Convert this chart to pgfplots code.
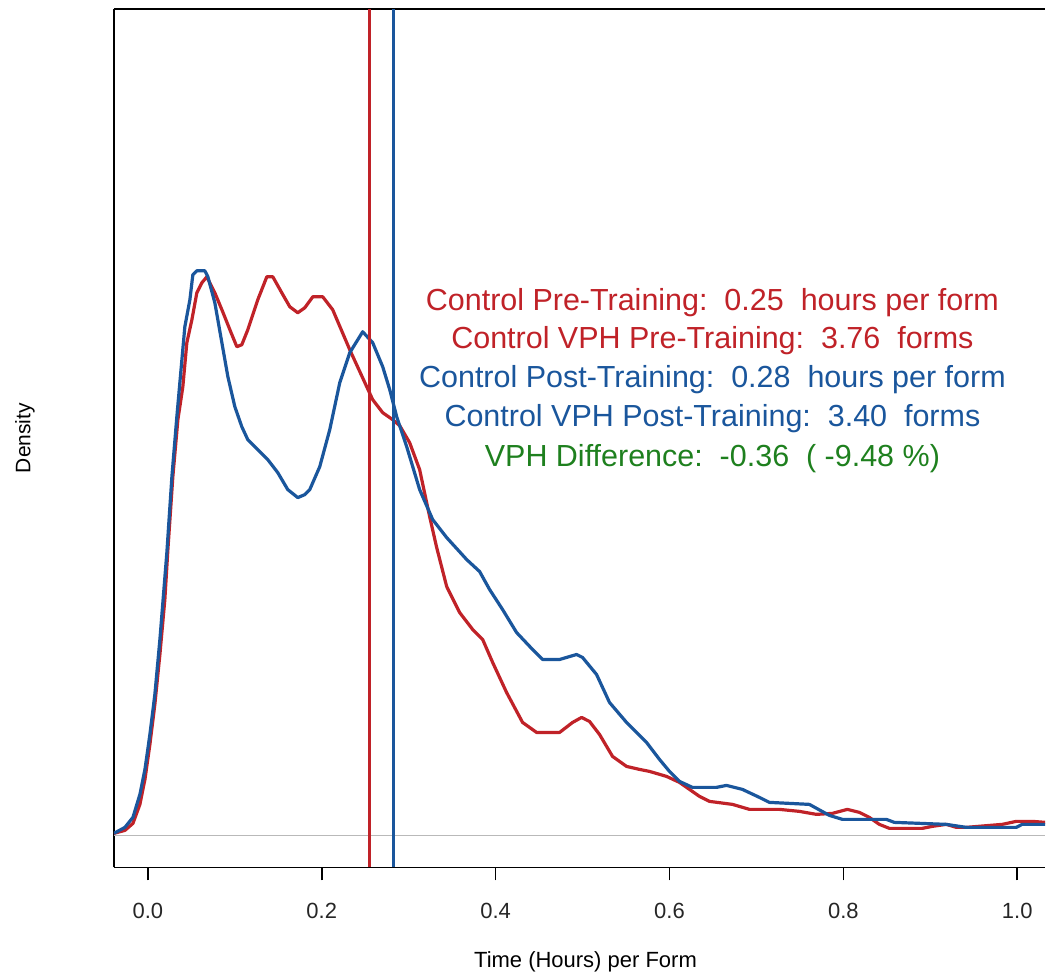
\documentclass[border=0pt]{standalone}
\usepackage{fontspec}
\setmainfont{Liberation Sans}
\usepackage{pgfplots}
\pgfplotsset{compat=1.18}
\definecolor{rred}{RGB}{192,34,40}
\definecolor{rblue}{RGB}{26,86,156}
\definecolor{rgreen}{RGB}{30,128,30}

\pgfplotstableread{
x y
-0.0391 0.02
-0.0264 0.05
-0.0172 0.12
-0.0092 0.31
-0.0034 0.56
0.0023 0.91
0.0080 1.31
0.0138 1.81
0.0195 2.36
0.0230 2.86
0.0287 3.59
0.0345 4.16
0.0402 4.49
0.0448 4.93
0.0506 5.16
0.0563 5.43
0.0621 5.53
0.0678 5.59
0.0770 5.43
0.0851 5.26
0.0943 5.06
0.1023 4.89
0.1080 4.91
0.1149 5.06
0.1264 5.36
0.1368 5.59
0.1437 5.59
0.1540 5.43
0.1632 5.29
0.1724 5.23
0.1805 5.28
0.1897 5.39
0.2011 5.39
0.2126 5.26
0.2322 4.86
0.2517 4.49
0.2586 4.36
0.2701 4.23
0.2816 4.16
0.2897 4.10
0.3011 3.93
0.3126 3.66
0.3241 3.19
0.3322 2.88
0.3437 2.49
0.3586 2.23
0.3736 2.06
0.3851 1.96
0.3966 1.73
0.4126 1.43
0.4310 1.13
0.4471 1.03
0.4736 1.03
0.4885 1.13
0.4989 1.18
0.5080 1.14
0.5195 1.01
0.5345 0.79
0.5506 0.69
0.5655 0.66
0.5770 0.64
0.5966 0.59
0.6115 0.53
0.6345 0.39
0.6460 0.34
0.6724 0.31
0.6920 0.26
0.7264 0.26
0.7494 0.24
0.7690 0.21
0.7874 0.22
0.8046 0.26
0.8184 0.23
0.8299 0.18
0.8414 0.11
0.8529 0.07
0.8908 0.07
0.9023 0.09
0.9184 0.11
0.9299 0.08
0.9414 0.08
0.9828 0.11
0.9989 0.14
1.0172 0.14
1.0322 0.13
}\pretable

\pgfplotstableread{
x y
-0.0391 0.02
-0.0264 0.08
-0.0172 0.18
-0.0092 0.41
-0.0034 0.66
0.0023 1.01
0.0080 1.41
0.0138 1.96
0.0218 2.83
0.0276 3.59
0.0333 4.19
0.0391 4.76
0.0425 5.09
0.0483 5.36
0.0517 5.61
0.0563 5.65
0.0655 5.65
0.0690 5.59
0.0770 5.33
0.0851 4.93
0.0920 4.59
0.1000 4.29
0.1080 4.09
0.1149 3.96
0.1264 3.86
0.1379 3.76
0.1494 3.63
0.1609 3.46
0.1724 3.38
0.1805 3.41
0.1862 3.46
0.1977 3.69
0.2092 4.06
0.2207 4.53
0.2322 4.83
0.2471 5.04
0.2586 4.93
0.2701 4.69
0.2782 4.46
0.2862 4.19
0.2977 3.89
0.3126 3.46
0.3276 3.16
0.3437 2.98
0.3667 2.76
0.3816 2.64
0.3931 2.46
0.4080 2.26
0.4241 2.03
0.4425 1.86
0.4540 1.76
0.4736 1.76
0.4931 1.81
0.5000 1.78
0.5161 1.61
0.5310 1.33
0.5506 1.13
0.5736 0.93
0.5885 0.76
0.6000 0.64
0.6115 0.54
0.6264 0.48
0.6540 0.48
0.6655 0.50
0.6839 0.46
0.7034 0.38
0.7149 0.33
0.7609 0.31
0.7839 0.20
0.7989 0.16
0.8494 0.16
0.8586 0.13
0.9184 0.11
0.9414 0.08
0.9989 0.08
1.0057 0.11
1.0322 0.11
}\posttable

\begin{document}
\begin{tikzpicture}
\begin{axis}[
  scale only axis, width=932pt, height=859pt,
  xmin=-0.0391, xmax=1.0322, ymin=-0.32, ymax=8.27,
  axis x line=box, axis y line=left,
  every outer y axis line/.append style={-},
  y axis line style={-},
  axis line style={black, line width=1.6pt},
  xtick={0,0.2,0.4,0.6,0.8,1.0},
  xticklabels={0.0,0.2,0.4,0.6,0.8,1.0},
  xtick pos=bottom,
  ytick=\empty,
  tick align=outside,
  major tick length=13pt,
  every tick/.style={black, line width=1.6pt},
  /pgf/number format/assume math mode=true,
  xticklabel style={font=\fontsize{22}{26}\selectfont, color=black!85, yshift=-19pt},
  xlabel={Time (Hours) per Form},
  xlabel style={at={(axis description cs:0.5064,-0.1164)}, anchor=base, font=\fontsize{22}{26}\selectfont},
  ylabel={Density},
  ylabel style={at={(axis description cs:-0.0955,0.5)}, anchor=center, font=\fontsize{21}{25}\selectfont},
  clip=true,
]
\addplot[gray!55, line width=1.3pt] coordinates {(-0.0391,0) (1.0322,0)};
\addplot[rred, line width=3.2pt, line join=round] table[x=x,y=y]{\pretable};
\addplot[rblue, line width=3.2pt, line join=round] table[x=x,y=y]{\posttable};
\addplot[rred, line width=3.2pt] coordinates {(0.2552,-0.32) (0.2552,8.27)};
\addplot[rblue, line width=3.2pt] coordinates {(0.2828,-0.32) (0.2828,8.27)};
\begin{scope}[font=\fontsize{30.5}{36}\selectfont]
\node[anchor=base, text=rred] at (axis cs:0.6494,5.25) {Control Pre-Training:\ \ 0.25\ \ hours per form};
\node[anchor=base, text=rred] at (axis cs:0.6494,4.87) {Control VPH Pre-Training:\ \ 3.76\ \ forms};
\node[anchor=base, text=rblue] at (axis cs:0.6494,4.48) {Control Post-Training:\ \ 0.28\ \ hours per form};
\node[anchor=base, text=rblue] at (axis cs:0.6494,4.09) {Control VPH Post-Training:\ \ 3.40\ \ forms};
\node[anchor=base, text=rgreen] at (axis cs:0.6494,3.69) {VPH Difference:\ \ -0.36\ \ ( -9.48 \%)};
\end{scope}
\end{axis}
\path[use as bounding box] (current axis.south west) ++(-114pt,-108pt) rectangle ++(1046pt,976pt);
\end{tikzpicture}
\end{document}
